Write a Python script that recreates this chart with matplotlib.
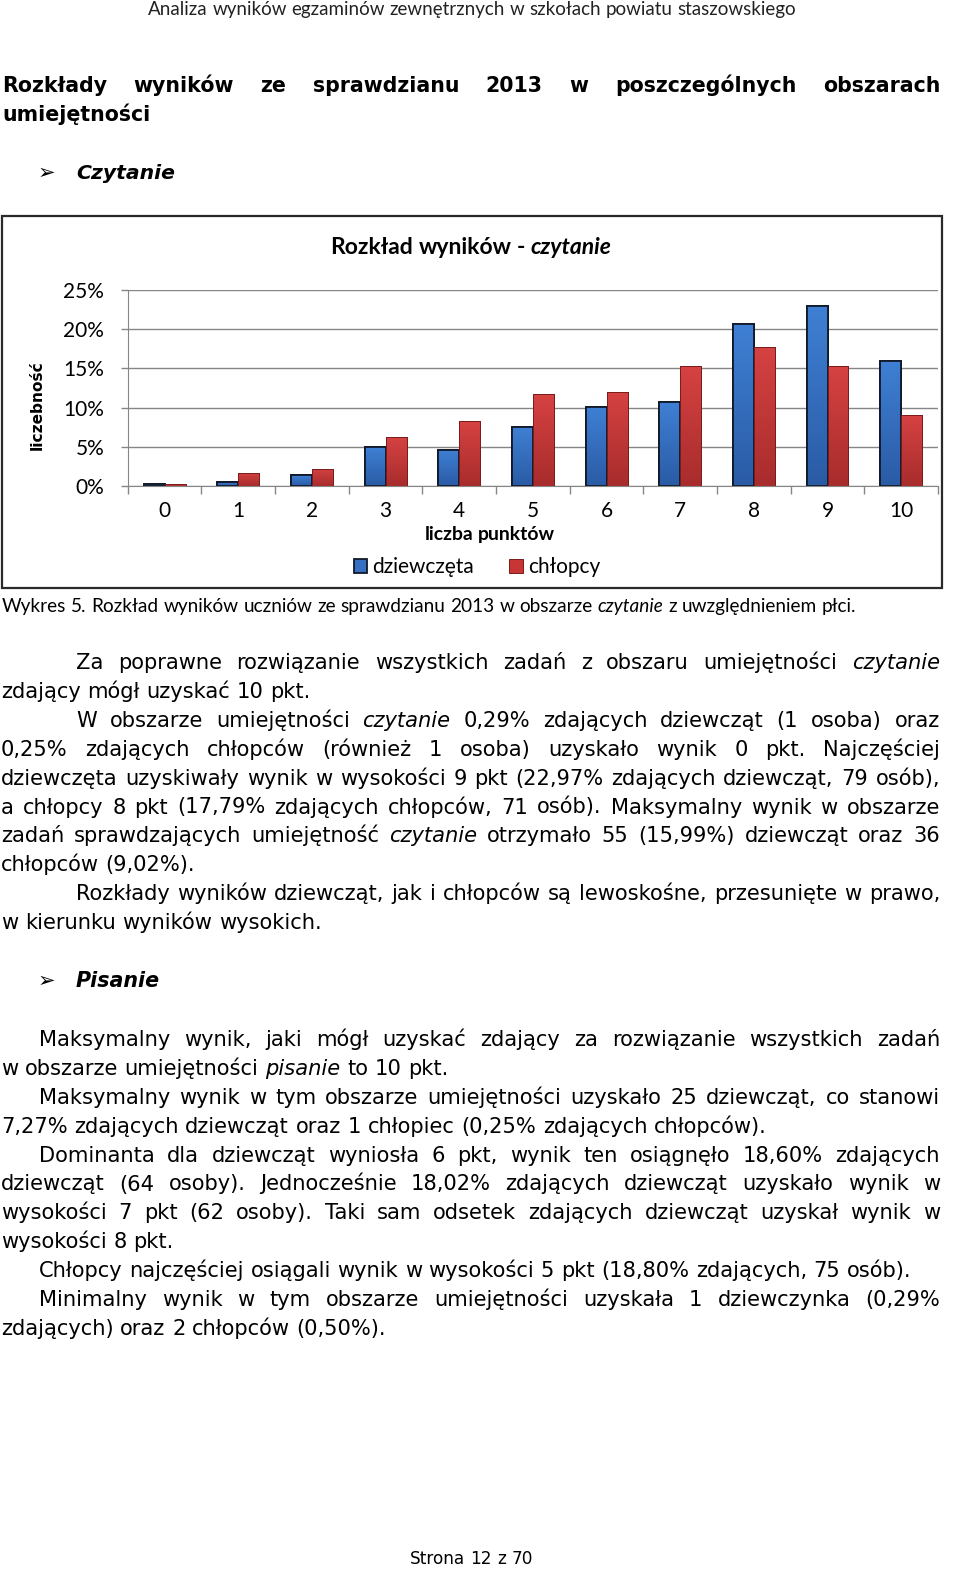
import matplotlib
matplotlib.use('Agg')
import matplotlib.pyplot as plt
from matplotlib.patches import Rectangle
from matplotlib.font_manager import FontProperties
from matplotlib.colors import LinearSegmentedColormap
import numpy as np

# ---------------- data ----------------
categories = [str(i) for i in range(11)]
girls = [0.29, 0.55, 1.40, 4.93, 4.63, 7.53, 10.12, 10.71, 20.62, 22.97, 15.99]
boys = [0.25, 1.70, 2.21, 6.20, 8.25, 11.73, 11.99, 15.26, 17.79, 15.26, 9.02]
yticks = [0, 5, 10, 15, 20, 25]
ytick_labels = ['0%', '5%', '10%', '15%', '20%', '25%']
series_names = ['dziewczęta', 'chłopcy']

W, H = 960, 1596
fig = plt.figure(figsize=(W / 100, H / 100), dpi=100)
renderer = fig.canvas.get_renderer()

BODY = ['DejaVu Sans']
CAL = ['Lato', 'DejaVu Sans']


def fx(px):
    return px / W


def fy(py):
    return 1 - py / H


def measure(s, **kw):
    t = fig.text(0, 0, s, **kw)
    w = t.get_window_extent(renderer).width
    t.remove()
    return w


def parse(line):
    out = []
    for w in line.split(' '):
        if len(w) > 2 and w.startswith('*') and w.endswith('*'):
            out.append((w[1:-1], 'italic'))
        else:
            out.append((w, 'normal'))
    return out


def widths(words, size, family, weight):
    return [measure(w, fontsize=size, family=family, weight=weight, style=st)
            for w, st in words]


def space_w(size, family, weight):
    return (measure('a a', fontsize=size, family=family, weight=weight)
            - measure('aa', fontsize=size, family=family, weight=weight))


def natural(line, size, family, weight='normal'):
    ws = widths(parse(line), size, family, weight)
    return sum(ws) + (len(ws) - 1) * space_w(size, family, weight)


def fit(line, target, family, weight='normal'):
    return 20 * target / natural(line, 20, family, weight)


def draw(line, x, yb, size, family, weight='normal', x1=None, ha='left',
         color='black'):
    words = parse(line)
    ws = widths(words, size, family, weight)
    if x1 is not None and len(words) > 1:
        gap = (x1 - x - sum(ws)) / (len(ws) - 1)
    else:
        gap = space_w(size, family, weight)
    total = sum(ws) + gap * (len(ws) - 1)
    if ha == 'center':
        x = x - total / 2
    cur = x
    for (w, st), wd in zip(words, ws):
        fig.text(fx(cur), fy(yb), w, fontsize=size, family=family,
                 weight=weight, style=st, ha='left', va='baseline',
                 color=color)
        cur += wd + gap


# ---------------- page header ----------------
hdr = 'Analiza wyników egzaminów zewnętrznych w szkołach powiatu staszowskiego'
s = fit(hdr, 648, CAL)
draw(hdr, 148, 15, s, CAL, color='#222222')

# ---------------- heading ----------------
hs = fit('umiejętności', 148, BODY, 'bold')
draw('Rozkłady wyników ze sprawdzianu 2013 w poszczególnych obszarach',
     2, 92, hs, BODY, 'bold', x1=940)
draw('umiejętności', 2, 121, hs, BODY, 'bold')

# sub heading Czytanie
fig.text(fx(38), fy(179), '➢', fontsize=15, family=BODY, va='baseline')
cs = fit('Czytanie', 99, BODY, 'bold')
fig.text(fx(76), fy(179), 'Czytanie', fontsize=cs, family=BODY,
         weight='bold', style='italic', va='baseline')

# ---------------- chart ----------------
fig.patches.append(Rectangle((fx(2), fy(588)), fx(940), (588 - 216) / H,
                             transform=fig.transFigure, fill=False,
                             edgecolor='#2a2a2a', linewidth=1.6))

ax = fig.add_axes([fx(127.7), fy(486), (938 - 127.7) / W, (486 - 290) / H])
x = np.arange(len(categories))
bw = 0.285
b1 = ax.bar(x - bw / 2, girls, width=bw, color='#3570C2',
            edgecolor='#111827', linewidth=1.3, label=series_names[0],
            zorder=3)
b2 = ax.bar(x + bw / 2, boys, width=bw, color='#C73535',
            edgecolor='#7A1C1C', linewidth=0.7, label=series_names[1],
            zorder=3)

cm_blue = LinearSegmentedColormap.from_list('b', ['#2A5BA5', '#3F80D4'])
cm_red = LinearSegmentedColormap.from_list('r', ['#A82C2C', '#D64242'])
grad = np.linspace(0, 1, 256).reshape(-1, 1)
for bars, cm, ec, lw in [(b1, cm_blue, '#111827', 1.3),
                         (b2, cm_red, '#7A1C1C', 0.7)]:
    for p in bars.patches:
        x0, y0 = p.get_x(), p.get_y()
        w_, h_ = p.get_width(), p.get_height()
        im = ax.imshow(grad, cmap=cm, origin='lower', aspect='auto',
                       extent=(x0, x0 + w_, y0, y0 + h_), zorder=3.2)
        im.set_clip_path(p)
        ax.add_patch(Rectangle((x0, y0), w_, h_, fill=False, edgecolor=ec,
                               linewidth=lw, zorder=3.4))

ax.set_xlim(-0.5, len(categories) - 0.5)
ax.set_ylim(0, 25)
ax.set_aspect('auto')
ax.set_yticks(yticks)
ax.set_yticklabels(ytick_labels, family=CAL, fontsize=15)
ax.set_xticks(x)
ax.set_xticklabels(categories, family=CAL, fontsize=15)
ax.set_xticks(np.arange(-0.5, len(categories)), minor=True)
ax.tick_params(axis='x', which='major', length=0, pad=11)
ax.tick_params(axis='x', which='minor', length=6, color='#868686', width=1)
ax.tick_params(axis='y', length=5, color='#868686', width=1, pad=12)
ax.yaxis.grid(True, color='#868686', linewidth=1)
ax.set_axisbelow(True)
for sp in ['top', 'right']:
    ax.spines[sp].set_visible(False)
for sp in ['left', 'bottom']:
    ax.spines[sp].set_color('#868686')
ax.spines['bottom'].set_zorder(4)

ts = fit('Rozkład wyników - *czytanie*', 282, CAL, 'bold')
draw('Rozkład wyników - *czytanie*', 471, 254, ts, CAL, 'bold', ha='center')

ls = fit('liczba punktów', 131, CAL, 'bold')
draw('liczba punktów', 490, 540, ls, CAL, 'bold', ha='center')

ys = fit('liczebność', 90, BODY, 'bold')
fig.text(fx(37), fy(405), 'liczebność', rotation=90, fontsize=ys,
         family=BODY, weight='bold', ha='center', va='center')

fig.legend(handles=[b1, b2], labels=series_names, loc='center',
           bbox_to_anchor=(fx(477), fy(567)), ncol=2, frameon=False,
           prop=FontProperties(family=CAL, size=15), handlelength=0.65,
           handleheight=0.65, handletextpad=0.25, columnspacing=1.7)

# caption
cap = ('Wykres 5. Rozkład wyników uczniów ze sprawdzianu 2013 w obszarze '
       '*czytanie* z uwzględnieniem płci.')
cps = fit(cap, 854, CAL)
draw(cap, 2, 612, cps, CAL)

# ---------------- body text ----------------
BS = fit('7,27% zdających dziewcząt oraz 1 chłopiec (0,25% zdających chłopców).',
         768, BODY)

para1 = [
    ('Za poprawne rozwiązanie wszystkich zadań z obszaru umiejętności *czytanie*', True, 75),
    ('zdający mógł uzyskać 10 pkt.', False, 0),
    ('W obszarze umiejętności *czytanie* 0,29% zdających dziewcząt (1 osoba) oraz', True, 75),
    ('0,25% zdających chłopców (również 1 osoba) uzyskało wynik 0 pkt. Najczęściej', True, 0),
    ('dziewczęta uzyskiwały wynik w wysokości 9 pkt (22,97% zdających dziewcząt, 79 osób),', True, 0),
    ('a chłopcy 8 pkt (17,79% zdających chłopców, 71 osób). Maksymalny wynik w obszarze', True, 0),
    ('zadań sprawdzających umiejętność *czytanie* otrzymało 55 (15,99%) dziewcząt oraz 36', True, 0),
    ('chłopców (9,02%).', False, 0),
    ('Rozkłady wyników dziewcząt, jak i chłopców są lewoskośne, przesunięte w prawo,', True, 75),
    ('w kierunku wyników wysokich.', False, 0),
]
para2 = [
    ('Maksymalny wynik, jaki mógł uzyskać zdający za rozwiązanie wszystkich zadań', True, 38),
    ('w obszarze umiejętności *pisanie* to 10 pkt.', False, 0),
    ('Maksymalny wynik w tym obszarze umiejętności uzyskało 25 dziewcząt, co stanowi', True, 38),
    ('7,27% zdających dziewcząt oraz 1 chłopiec (0,25% zdających chłopców).', False, 0),
    ('Dominanta dla dziewcząt wyniosła 6 pkt, wynik ten osiągnęło 18,60% zdających', True, 38),
    ('dziewcząt (64 osoby). Jednocześnie 18,02% zdających dziewcząt uzyskało wynik w', True, 0),
    ('wysokości 7 pkt (62 osoby). Taki sam odsetek zdających dziewcząt uzyskał wynik w', True, 0),
    ('wysokości 8 pkt.', False, 0),
    ('Chłopcy najczęściej osiągali wynik w wysokości 5 pkt (18,80% zdających, 75 osób).', False, 38),
    ('Minimalny wynik w tym obszarze umiejętności uzyskała 1 dziewczynka (0,29%', True, 38),
    ('zdających) oraz 2 chłopców (0,50%).', False, 0),
]

LH = 28.9


def draw_para(lines, y0):
    for i, (txt, just, ind) in enumerate(lines):
        yb = y0 + i * LH
        draw(txt, 1 + ind, yb, BS, BODY, x1=940 if just else None)


draw_para(para1, 669)

fig.text(fx(38), fy(987), '➢', fontsize=15, family=BODY, va='baseline')
ps = fit('Pisanie', 84, BODY, 'bold')
fig.text(fx(76), fy(987), 'Pisanie', fontsize=ps, family=BODY,
         weight='bold', style='italic', va='baseline')

draw_para(para2, 1046)

# footer
fs = fit('Strona 12 z 70', 123, BODY)
draw('Strona 12 z 70', 410, 1564, fs, BODY)

fig.savefig('out.png', dpi=100)
